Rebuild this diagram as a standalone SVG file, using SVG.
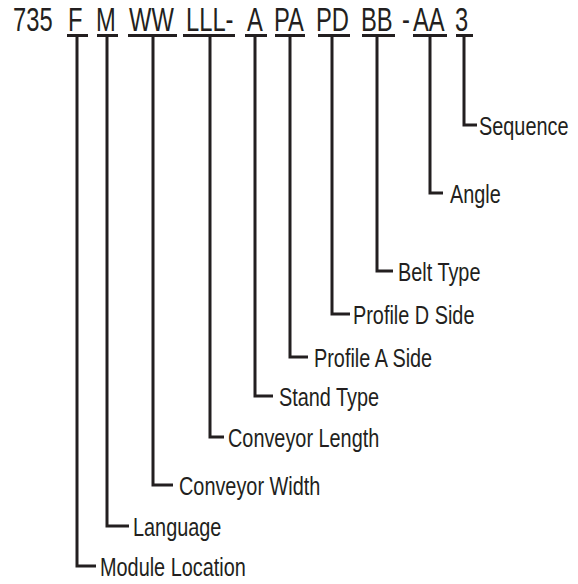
<svg xmlns="http://www.w3.org/2000/svg" width="578" height="584" viewBox="0 0 578 584">
<style>
.t{font-family:"Liberation Sans",Arial,sans-serif;fill:#231f20}
.code{font-size:32.5px}
.lbl{font-size:26.5px}
.u{stroke:#231f20;stroke-width:3;fill:none}
.c{stroke:#231f20;stroke-width:3;fill:none;stroke-linejoin:miter;stroke-linecap:butt}
</style>
<rect width="578" height="584" fill="#fff"/>
<g id="code">
<text class="t code" transform="translate(13,31) scale(0.73,1)">735</text>
<text class="t code" transform="translate(402,31) scale(0.73,1)">-</text>
</g>
<g id="seg-F"><text class="t code" transform="translate(68,31) scale(0.73,1)">F</text><line class="u" x1="67" y1="35.5" x2="88" y2="35.5"/></g>
<g id="seg-M"><text class="t code" transform="translate(96,31) scale(0.73,1)">M</text><line class="u" x1="97" y1="35.5" x2="118" y2="35.5"/></g>
<g id="seg-WW"><text class="t code" transform="translate(129,31) scale(0.73,1)">WW</text><line class="u" x1="128" y1="35.5" x2="177" y2="35.5"/></g>
<g id="seg-LLL"><text class="t code" transform="translate(186,31) scale(0.73,1)">LLL-</text><line class="u" x1="183" y1="35.5" x2="235" y2="35.5"/></g>
<g id="seg-A"><text class="t code" transform="translate(247,31) scale(0.73,1)">A</text><line class="u" x1="245" y1="35.5" x2="267" y2="35.5"/></g>
<g id="seg-PA"><text class="t code" transform="translate(274,31) scale(0.73,1)">PA</text><line class="u" x1="275" y1="35.5" x2="305" y2="35.5"/></g>
<g id="seg-PD"><text class="t code" transform="translate(316,31) scale(0.73,1)">PD</text><line class="u" x1="318" y1="35.5" x2="350" y2="35.5"/></g>
<g id="seg-BB"><text class="t code" transform="translate(361,31) scale(0.73,1)">BB</text><line class="u" x1="362" y1="35.5" x2="395" y2="35.5"/></g>
<g id="seg-AA"><text class="t code" transform="translate(413,31) scale(0.73,1)">AA</text><line class="u" x1="413" y1="35.5" x2="447" y2="35.5"/></g>
<g id="seg-3"><text class="t code" transform="translate(455,31) scale(0.73,1)">3</text><line class="u" x1="456" y1="35.5" x2="473" y2="35.5"/></g>

<g id="connectors">
<path class="c" d="M464 37 V125 H477"/>
<path class="c" d="M430 37 V193 H443"/>
<path class="c" d="M377 37 V271 H393"/>
<path class="c" d="M332 37 V314 H350"/>
<path class="c" d="M290 37 V357 H308"/>
<path class="c" d="M255 37 V396 H273"/>
<path class="c" d="M210 37 V437 H224"/>
<path class="c" d="M153 37 V485 H173"/>
<path class="c" d="M107 37 V526 H129"/>
<path class="c" d="M77 37 V566 H96"/>
</g>

<g id="sequence"><text class="t lbl" transform="translate(479,135) scale(0.75,1)">Sequence</text></g>
<g id="angle"><text class="t lbl" transform="translate(450,203) scale(0.75,1)">Angle</text></g>
<g id="belt-type"><text class="t lbl" transform="translate(398,281) scale(0.75,1)">Belt Type</text></g>
<g id="profile-d-side"><text class="t lbl" transform="translate(353,324) scale(0.75,1)">Profile D Side</text></g>
<g id="profile-a-side"><text class="t lbl" transform="translate(314,367) scale(0.75,1)">Profile A Side</text></g>
<g id="stand-type"><text class="t lbl" transform="translate(279,406) scale(0.75,1)">Stand Type</text></g>
<g id="conveyor-length"><text class="t lbl" transform="translate(228,447) scale(0.75,1)">Conveyor Length</text></g>
<g id="conveyor-width"><text class="t lbl" transform="translate(179,495) scale(0.75,1)">Conveyor Width</text></g>
<g id="language"><text class="t lbl" transform="translate(133,536) scale(0.75,1)">Language</text></g>
<g id="module-location"><text class="t lbl" transform="translate(100,576) scale(0.75,1)">Module Location</text></g>
</svg>
